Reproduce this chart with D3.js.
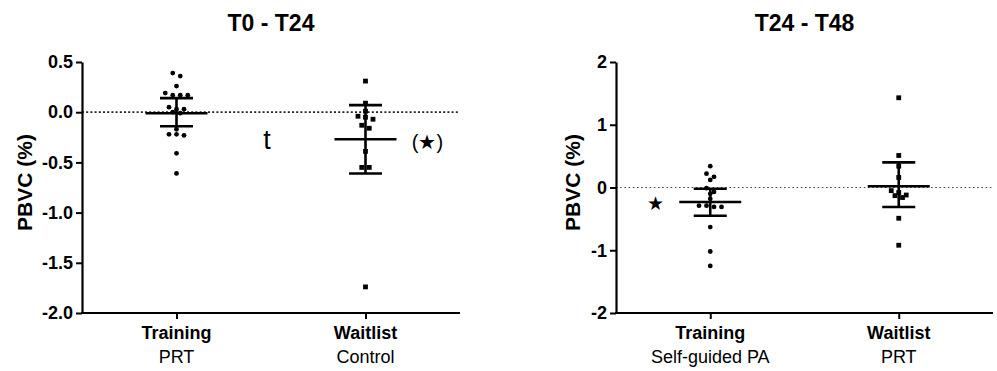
<!DOCTYPE html>
<html>
<head>
<meta charset="utf-8">
<script src="https://cdn.jsdelivr.net/npm/d3@7/dist/d3.min.js"></script>
<style>
  html, body { margin: 0; padding: 0; background: #fff; }
  svg text { font-family: "Liberation Sans", Arial, Helvetica, sans-serif; fill: #000; }
</style>
</head>
<body>
<svg id="chart" width="997" height="371"></svg>
<script>
// ---------- data ----------
const titles = ["T0 - T24", "T24 - T48"];
const groupNames = ["Training", "Waitlist"];
const leftSubLabels = ["PRT", "Control"];
const rightSubLabels = ["Self-guided PA", "PRT"];
const yLabel = "PBVC (%)";

const leftTicks = [0.5, 0.0, -0.5, -1.0, -1.5, -2.0];
const rightTicks = [2, 1, 0, -1, -2];

// T0 - T24
const leftTraining = [0.39, 0.36, 0.26, 0.19, 0.17, 0.17, 0.17, 0.05, 0.03, 0.03, 0.0, -0.01, -0.17, -0.22, -0.23, -0.22, -0.41, -0.61];
const leftWaitlist = [0.31, 0.09, 0.01, -0.04, -0.05, -0.07, -0.13, -0.16, -0.39, -0.55, -0.55, -1.74];
const leftMeans = [-0.01, -0.27];
const leftUpper = [0.14, 0.07];
const leftLower = [-0.14, -0.61];

// T24 - T48
const rightTraining = [0.34, 0.22, 0.17, 0.12, -0.01, -0.07, -0.10, -0.18, -0.29, -0.31, -0.31, -0.29, -0.63, -1.02, -1.25];
const rightWaitlist = [1.43, 0.51, 0.34, 0.16, -0.05, -0.12, -0.16, -0.13, -0.08, -0.49, -0.92];
const rightMeans = [-0.23, 0.02];
const rightUpper = [-0.02, 0.40];
const rightLower = [-0.45, -0.31];

// annotations
const leftMidMark = "t";
const leftWaitMark = "(\u2605)";
const rightTrainMark = "\u2605";

// ---------- drawing ----------
const svg = d3.select("#chart");
svg.append("rect").attr("width", 997).attr("height", 371).attr("fill", "#fff");

const panels = [
  { title: titles[0], xr: [82, 460], yr: [313, 62], dom: [-2, 0.5], ticks: leftTicks,
    fmt: d => d.toFixed(1), series: [leftTraining, leftWaitlist], shapes: ["circle", "square"],
    means: leftMeans, upper: leftUpper, lower: leftLower, subs: leftSubLabels,
    labelX: 24, zero: { dash: "2,2.2", w: 1.8, c: "#222" } },
  { title: titles[1], xr: [616, 993], yr: [313, 62], dom: [-2, 2], ticks: rightTicks,
    fmt: d => String(d), series: [rightTraining, rightWaitlist], shapes: ["circle", "square"],
    means: rightMeans, upper: rightUpper, lower: rightLower, subs: rightSubLabels,
    labelX: 572, zero: { dash: "1.6,2.6", w: 1.1, c: "#444" } }
];

const scales = [];

panels.forEach((p, pi) => {
  const g = svg.append("g");
  const x = d3.scalePoint().domain(groupNames).range(p.xr).padding(0.5);
  const y = d3.scaleLinear().domain(p.dom).range(p.yr);
  scales.push({ x, y });

  // zero reference line
  g.append("line")
    .attr("x1", p.xr[0]).attr("x2", p.xr[1])
    .attr("y1", y(0)).attr("y2", y(0))
    .attr("stroke", p.zero.c).attr("stroke-width", p.zero.w)
    .attr("stroke-dasharray", p.zero.dash);

  // y axis
  const ya = g.append("g").attr("transform", `translate(${p.xr[0]},0)`)
    .call(d3.axisLeft(y).tickValues(p.ticks).tickFormat(p.fmt).tickSize(6).tickPadding(3).tickSizeOuter(0));
  ya.select(".domain").attr("stroke", "#000").attr("stroke-width", 2.2);
  ya.selectAll(".tick line").attr("stroke", "#000").attr("stroke-width", 2);
  ya.selectAll(".tick text").attr("font-size", 18).attr("font-weight", "bold")
    .attr("font-family", "Liberation Sans, Arial, sans-serif").attr("fill", "#111");

  // x axis
  const xa = g.append("g").attr("transform", `translate(0,${p.yr[0]})`)
    .call(d3.axisBottom(x).tickSize(6).tickSizeOuter(0).tickFormat(""));
  xa.select(".domain").attr("stroke", "#000").attr("stroke-width", 2.2)
    .attr("d", `M${p.xr[0] - 1},0H${p.xr[1]}`);
  xa.selectAll(".tick line").attr("stroke", "#000").attr("stroke-width", 2);

  // category labels
  groupNames.forEach((name, i) => {
    g.append("text").attr("x", x(name)).attr("y", 339)
      .attr("text-anchor", "middle").attr("font-size", 18).attr("font-weight", "bold")
      .attr("fill", "#111").text(name);
    g.append("text").attr("x", x(name)).attr("y", 363)
      .attr("text-anchor", "middle").attr("font-size", 18)
      .attr("fill", "#111").text(p.subs[i]);
  });

  // title
  g.append("text").attr("x", (p.xr[0] + p.xr[1]) / 2).attr("y", 31)
    .attr("text-anchor", "middle").attr("font-size", 23).attr("font-weight", "bold")
    .attr("fill", "#111").text(p.title);

  // y label
  g.append("text")
    .attr("transform", `translate(${p.labelX},${(p.yr[0] + p.yr[1]) / 2 - 5}) rotate(-90)`)
    .attr("text-anchor", "middle").attr("dominant-baseline", "central")
    .attr("font-size", 21).attr("font-weight", "bold").attr("fill", "#111").text(yLabel);

  // scatter points with symmetric row spreading
  p.series.forEach((vals, si) => {
    const cx = x(groupNames[si]);
    const sorted = vals.map(v => ({ v, py: y(v) })).sort((a, b) => a.py - b.py);
    const bins = [];
    sorted.forEach(d => {
      const last = bins[bins.length - 1];
      if (last && d.py - last[0].py <= 4.5) last.push(d); else bins.push([d]);
    });
    const step = 7.5;
    const pts = [];
    bins.forEach(b => b.forEach((d, i) => pts.push({ py: d.py, px: cx + (i - (b.length - 1) / 2) * step })));
    if (p.shapes[si] === "circle") {
      g.selectAll(null).data(pts).enter().append("circle")
        .attr("cx", d => d.px).attr("cy", d => d.py).attr("r", 2.4).attr("fill", "#000");
    } else {
      const s = 4.8;
      g.selectAll(null).data(pts).enter().append("rect")
        .attr("x", d => d.px - s / 2).attr("y", d => d.py - s / 2)
        .attr("width", s).attr("height", s).attr("fill", "#000");
    }

    // mean and error bars
    const m = y(p.means[si]), hi = y(p.upper[si]), lo = y(p.lower[si]);
    const eg = g.append("g").attr("stroke", "#000").attr("stroke-width", 2.6);
    eg.append("line").attr("x1", cx).attr("x2", cx).attr("y1", hi).attr("y2", lo);
    eg.append("line").attr("x1", cx - 31).attr("x2", cx + 31).attr("y1", m).attr("y2", m);
    eg.append("line").attr("x1", cx - 16.5).attr("x2", cx + 16.5).attr("y1", hi).attr("y2", hi);
    eg.append("line").attr("x1", cx - 16.5).attr("x2", cx + 16.5).attr("y1", lo).attr("y2", lo);
  });
});

// annotations
const L = scales[0], R = scales[1];
svg.append("text")
  .attr("x", (L.x(groupNames[0]) + L.x(groupNames[1])) / 2 - 4)
  .attr("y", L.y(-0.37)).attr("text-anchor", "middle")
  .attr("font-size", 27).attr("fill", "#111").text(leftMidMark);
svg.append("text")
  .attr("x", L.x(groupNames[1]) + 62).attr("y", L.y(-0.365)).attr("text-anchor", "middle")
  .attr("font-size", 20).attr("fill", "#111")
  .attr("font-family", "DejaVu Sans, sans-serif").text(leftWaitMark);
svg.append("text")
  .attr("x", R.x(groupNames[0]) - 55).attr("y", R.y(-0.255)).attr("text-anchor", "middle")
  .attr("dominant-baseline", "central")
  .attr("font-size", 19).attr("fill", "#111")
  .attr("font-family", "DejaVu Sans, sans-serif").text(rightTrainMark);
</script>
</body>
</html>
